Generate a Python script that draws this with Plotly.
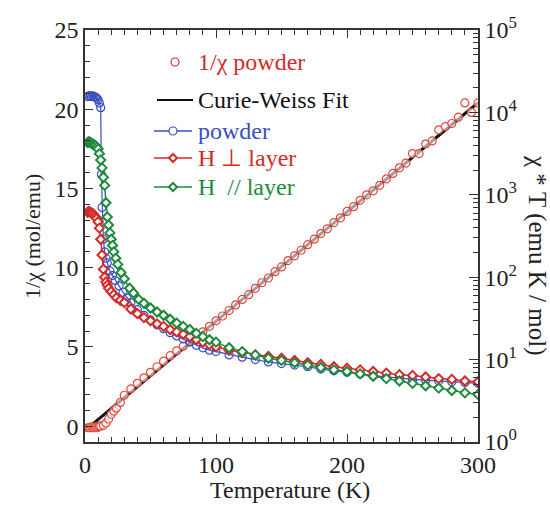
import plotly.graph_objects as go

# ---------------- data ----------------
# 1/chi of the powder sample (mol/emu), left axis
inv_T = [2, 3, 4, 5, 6, 7, 8, 9, 10, 11, 12, 14, 16, 18, 20, 22, 24, 27,
         30, 35, 40, 45, 50, 55, 60, 65, 70, 75, 80, 85, 90, 95, 100, 105,
         110, 115, 120, 125, 130, 135, 140, 145, 150, 155, 160, 165, 170,
         175, 180, 185, 190, 195, 200, 205, 210, 215, 220, 225, 230, 235,
         240, 245, 250, 255, 260, 265, 270, 275, 280, 285, 290, 295, 300]
inv_chi = [-0.1, -0.1, -0.1, -0.05, -0.1, -0.1, -0.05, -0.1, -0.05, 0.0, 0.0,
           0.05, 0.2, 0.45, 0.75, 0.95, 1.15, 1.5,
           1.95, 2.35, 2.7, 3.05, 3.4, 3.75, 4.1, 4.45, 4.75, 5.05, 5.35,
           5.65, 5.95, 6.3, 6.65, 6.95, 7.3, 7.65, 8.0, 8.3, 8.7, 9.05,
           9.35, 9.75, 10.05, 10.45, 10.75, 11.1, 11.45, 11.8, 12.15, 12.45,
           12.85, 13.15, 13.55, 13.85, 14.25, 14.6, 14.85, 15.2, 15.6, 15.95,
           16.3, 16.6, 17.2, 17.2, 17.8, 18.0, 18.7, 18.9, 19.1, 19.5, 20.4,
           19.8, 20.4]

# Curie-Weiss fit line (end points)
fit_T = [6, 300]
fit_inv_chi = [0.14, 20.41]

# chi*T, powder (right log axis)
pow_T = [2, 3, 4, 5, 6, 7, 8, 9, 10, 11, 12, 12.5, 13, 14, 15, 16, 17, 19,
         21, 23, 26, 29, 32, 35, 40, 45, 50, 55, 60, 65, 70, 75, 80, 85, 90,
         95, 100, 110, 120, 130, 140, 150, 160, 170, 180, 190, 200, 210, 220,
         230, 240, 250, 260, 270, 280, 290, 300]
pow_chiT = [15560, 15920, 15920, 15560, 15920, 15560, 15220, 14890, 14260,
            13040, 11420, 1778, 702, 289, 203, 170, 149, 119, 104.5, 91.5,
            78.4, 65.7, 56.2, 49.2, 40.3, 34.5, 30.3, 26.5, 23.7, 21.2, 19.4,
            17.8, 16.3, 14.9, 13.9, 13.0, 12.5, 11.4, 10.7, 10.0, 9.36, 8.95,
            8.57, 8.19, 7.67, 7.33, 7.02, 6.71, 6.42, 6.14, 6.01, 5.75, 5.62,
            5.50, 5.38, 5.26, 5.15]

# chi*T, H perpendicular to layer
perp_T = [2, 3, 4, 5, 6, 7, 8, 9, 10, 11, 12, 13, 14, 15, 16, 17, 18, 20,
          22, 24, 27, 30, 35, 40, 45, 50, 55, 60, 65, 70, 75, 80, 85, 90, 95,
          100, 110, 120, 130, 140, 150, 160, 170, 180, 190, 200, 210, 220,
          230, 240, 250, 260, 270, 280, 290, 300]
perp_chiT = [614, 628, 614, 601, 588, 562, 538, 514, 471, 394, 289, 186, 125,
             100, 87.5, 80.1, 73.3, 67.1, 61.4, 56.2, 52.5, 49.2, 41.2, 36.1,
             32.3, 29.6, 27.1, 25.3, 23.2, 21.7, 20.3, 19.0, 17.4, 16.3, 15.2,
             14.3, 13.0, 12.2, 11.4, 10.9, 10.4, 9.78, 9.15, 8.75, 8.19, 7.84,
             7.50, 7.17, 6.86, 6.56, 6.42, 6.14, 5.88, 5.75, 5.50, 5.38]

# chi*T, H parallel to layer
par_T = [2, 3, 4, 5, 6, 7, 8, 9, 10, 11, 12, 13, 14, 15, 16, 17, 18, 19, 20,
         21, 22, 23.5, 25, 27.5, 30, 34, 37, 41, 45, 50, 55, 60, 65, 70, 75,
         80, 85, 90, 95, 100, 110, 120, 130, 140, 150, 160, 170, 180, 190,
         200, 210, 220, 230, 240, 250, 260, 270, 280, 290, 300]
par_chiT = [4310, 4410, 4310, 4220, 4120, 4030, 3950, 3780, 3610, 3160, 2650,
            2120, 1630, 1300, 801, 538, 431, 345, 289, 243, 203, 170, 143,
            114, 95.7, 73.3, 64.2, 53.8, 48.2, 42.2, 37.8, 34.5, 30.9, 27.7,
            25.3, 23.2, 20.8, 19.0, 17.4, 16.3, 13.9, 12.5, 11.4, 10.4, 9.78,
            9.15, 8.57, 8.01, 7.50, 7.17, 6.71, 6.28, 5.88, 5.50, 5.15, 4.82,
            4.51, 4.22, 3.95, 3.78]

x_ticks = [0, 100, 200, 300]
y_ticks = [0, 5, 10, 15, 20, 25]
r_tickvals = [1, 10, 100, 1000, 10000, 100000]
r_ticktext = ["10<sup>0</sup>", "10<sup>1</sup>", "10<sup>2</sup>",
              "10<sup>3</sup>", "10<sup>4</sup>", "10<sup>5</sup>"]
r_minor = [m * d for d in (1, 10, 100, 1000, 10000) for m in range(2, 10)]

# ---------------- style ----------------
FONT = "Liberation Serif, Times New Roman, serif"
RED = "#d42a2a"
BLUE = "#3a4fc4"
GREEN = "#1e8a3c"
BLACK = "#111111"
AX = "#333333"

W, H = 550, 506
L, R, T, B = 85, 72, 30, 64
PW, PH = W - L - R, H - T - B


def px(x):
    return (x - L) / PW


def py(y):
    return (H - B - y) / PH


fig = go.Figure()

fig.add_trace(go.Scatter(
    x=pow_T, y=pow_chiT, yaxis="y2", mode="lines+markers",
    line=dict(color=BLUE, width=1.2),
    marker=dict(symbol="circle-open", size=8, color=BLUE, line=dict(width=1.2)),
    showlegend=False))
fig.add_trace(go.Scatter(
    x=perp_T, y=perp_chiT, yaxis="y2", mode="lines+markers",
    line=dict(color=RED, width=1.5),
    marker=dict(symbol="diamond", size=7, color="white",
                line=dict(color=RED, width=2)),
    showlegend=False))
fig.add_trace(go.Scatter(
    x=par_T, y=par_chiT, yaxis="y2", mode="lines+markers",
    line=dict(color=GREEN, width=1.5),
    marker=dict(symbol="diamond", size=7, color="white",
                line=dict(color=GREEN, width=2)),
    showlegend=False))
fig.add_trace(go.Scatter(
    x=fit_T, y=fit_inv_chi, mode="lines",
    line=dict(color=BLACK, width=3), showlegend=False))
fig.add_trace(go.Scatter(
    x=inv_T, y=inv_chi, mode="markers",
    marker=dict(symbol="circle", size=8, color="rgba(255,255,255,0.6)",
                line=dict(color="#e04a3a", width=1.2)),
    showlegend=False))
# invisible trace to activate the top x axis and the minor-tick log axis
fig.add_trace(go.Scatter(x=[None], y=[None], xaxis="x2", yaxis="y3",
                         showlegend=False, hoverinfo="skip"))

tickfont = dict(family=FONT, size=24, color="#222")

fig.update_layout(
    width=W, height=H,
    margin=dict(l=L, r=R, t=T, b=B),
    paper_bgcolor="white", plot_bgcolor="white",
    font=dict(family=FONT, color="#222"),
    xaxis=dict(range=[0, 300], tickvals=x_ticks, ticklen=8, tickwidth=1.3,
               ticks="inside", tickcolor=AX, showline=True, linecolor=AX,
               linewidth=1.5, tickfont=tickfont, showgrid=False,
               zeroline=False,
               minor=dict(ticks="inside", dtick=10, ticklen=5, tickcolor=AX,
                          tickwidth=1)),
    xaxis2=dict(range=[0, 300], overlaying="x", side="top", tickvals=x_ticks,
                ticklen=8, tickwidth=1.3, ticks="inside", tickcolor=AX,
                showline=True, linecolor=AX, linewidth=1.5,
                showticklabels=False, showgrid=False, zeroline=False,
                minor=dict(ticks="inside", dtick=10, ticklen=5, tickcolor=AX,
                           tickwidth=1)),
    yaxis=dict(range=[-1, 25], tickvals=y_ticks, ticklen=8, tickwidth=1.3,
               ticks="inside", tickcolor=AX, showline=True, linecolor=AX,
               linewidth=1.5, tickfont=tickfont, showgrid=False,
               zeroline=False,
               minor=dict(ticks="inside", dtick=1, ticklen=5, tickcolor=AX,
                          tickwidth=1)),
    yaxis2=dict(type="log", range=[0, 5], overlaying="y", side="right",
                tickvals=r_tickvals, ticktext=r_ticktext, ticklen=9,
                tickwidth=1.3, ticks="inside", tickcolor=AX, showline=True,
                linecolor=AX, linewidth=1.5, tickfont=tickfont,
                showgrid=False, zeroline=False),
    yaxis3=dict(type="log", range=[0, 5], overlaying="y", side="right",
                tickvals=r_minor, ticklen=5, tickwidth=1, ticks="inside",
                tickcolor=AX, showticklabels=False, showline=False,
                showgrid=False, zeroline=False),
)

ann = []
ann.append(dict(text="Temperature (K)", x=px(290), y=py(490), xref="paper",
                yref="paper", showarrow=False, xanchor="center",
                yanchor="middle", font=dict(family=FONT, size=24, color="#222")))
ann.append(dict(text="1/χ (mol/emu)", x=px(32), y=py(236), xref="paper",
                yref="paper", showarrow=False, textangle=-90,
                xanchor="center", yanchor="middle",
                font=dict(family=FONT, size=22, color="#222")))
ann.append(dict(text="χ * T (emu K / mol)", x=px(537), y=py(255),
                xref="paper", yref="paper", showarrow=False, textangle=90,
                xanchor="center", yanchor="middle",
                font=dict(family=FONT, size=25, color="#222")))

legend_items = [
    ("1/χ powder", 62, RED),
    ("Curie-Weiss Fit", 100, BLACK),
    ("powder", 131, BLUE),
    ("H ⊥ layer", 158, RED),
    ("H  // layer", 187, GREEN),
]
for txt, yy, col in legend_items:
    ann.append(dict(text=txt, x=px(196), y=py(yy), xref="paper",
                    yref="paper", showarrow=False, xanchor="left",
                    yanchor="middle",
                    font=dict(family=FONT, size=24, color=col)))

shapes = []
shapes.append(dict(type="circle", xref="paper", yref="paper",
                   x0=px(171), x1=px(179), y0=py(58), y1=py(66),
                   line=dict(color=RED, width=1.2)))
shapes.append(dict(type="line", xref="paper", yref="paper",
                   x0=px(157), x1=px(193), y0=py(100), y1=py(100),
                   line=dict(color=BLACK, width=2)))
for yy, col in [(131, BLUE), (158, RED), (187, GREEN)]:
    shapes.append(dict(type="line", xref="paper", yref="paper",
                       x0=px(154), x1=px(192), y0=py(yy), y1=py(yy),
                       line=dict(color=col, width=1.3)))
shapes.append(dict(type="circle", xref="paper", yref="paper",
                   x0=px(169), x1=px(177), y0=py(127), y1=py(135),
                   fillcolor="white", line=dict(color=BLUE, width=1.2)))
for yy, col in [(158, RED), (187, GREEN)]:
    cx, cy = px(173), py(yy)
    dx, dy = 4 / PW, 4 / PH
    path = (f"M {cx - dx} {cy} L {cx} {cy + dy} L {cx + dx} {cy} "
            f"L {cx} {cy - dy} Z")
    shapes.append(dict(type="path", xref="paper", yref="paper", path=path,
                       fillcolor="white", line=dict(color=col, width=2)))

fig.update_layout(annotations=ann, shapes=shapes)

fig.write_html("out.html")
